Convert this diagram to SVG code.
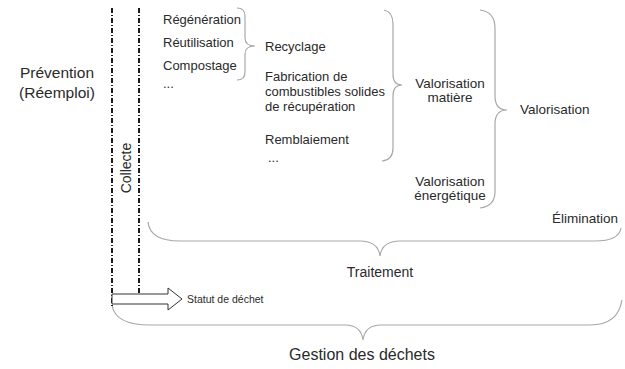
<svg xmlns="http://www.w3.org/2000/svg" width="625" height="369" viewBox="0 0 625 369">
<style>
text{font-family:"Liberation Sans",Arial,sans-serif;fill:#2a2a2a}
.s{font-size:13px}
.v{font-size:13.5px}
.m{font-size:14px}
.l{font-size:15.5px}
.br{fill:none;stroke:#a8a8a8;stroke-width:1.2}
.dl{stroke:#1a1a1a;stroke-width:2;stroke-dasharray:5 2 1 2;fill:none}
</style>
<rect width="625" height="369" fill="#fff"/>
<g id="connectors">
<path class="br" d="M237,8 Q245,8 245,16 L245,38 Q245,46 255,46 Q245,46 245,54 L245,72 Q245,80 237,80"/>
<path class="br" d="M384,10 Q393,12 393,24 L393,74 Q393,85 402,85 Q393,85 393,96 L393,148 Q393,160 382,161"/>
<path class="br" d="M480,10 Q495,12 495,28 L495,96 Q495,110 507,110 Q495,110 495,124 L495,192 Q495,206 480,208"/>
<path class="br" d="M148,222 Q150,241 180,241 L360,241 Q378,241 380,256 Q382,241 400,241 L595,241 Q619,241 621,228"/>
<path class="br" d="M112,305 Q115,325 150,325 L345,325 Q361,325 363,340 Q365,325 381,325 L590,325 Q618,325 622,300"/>
</g>
<g id="prevention">
<text class="l" x="57" y="78" text-anchor="middle">Prévention</text>
<text class="l" x="57" y="98" text-anchor="middle">(Réemploi)</text>
</g>
<g id="collecte">
<line class="dl" x1="112" y1="8" x2="112" y2="306"/>
<line class="dl" x1="139" y1="8" x2="139" y2="304"/>
<text class="m" transform="translate(131,168) rotate(-90)" text-anchor="middle">Collecte</text>
</g>
<g id="statut">
<path d="M112,294 L168,294 L168,288 L182,299 L168,310 L168,304 L112,304 Z" fill="#fff" stroke="#333" stroke-width="1"/>
<text x="187" y="303" style="font-size:10.5px">Statut de déchet</text>
</g>
<g id="recyclage-list">
<text class="s" x="163" y="24">Régénération</text>
<text class="s" x="163" y="47">Réutilisation</text>
<text class="s" x="163" y="70">Compostage</text>
<text class="s" x="163" y="88">...</text>
</g>
<g id="recyclage"><text class="s" x="265" y="51">Recyclage</text></g>
<g id="fabrication">
<text class="s" x="265" y="81">Fabrication de</text>
<text class="s" x="265" y="96">combustibles solides</text>
<text class="s" x="265" y="111">de récupération</text>
</g>
<g id="remblaiement">
<text class="s" x="265" y="144">Remblaiement</text>
<text class="s" x="268" y="162">...</text>
</g>
<g id="valorisation-matiere">
<text class="v" x="450" y="88" text-anchor="middle">Valorisation</text>
<text class="v" x="450" y="102" text-anchor="middle">matière</text>
</g>
<g id="valorisation-energetique">
<text class="v" x="450" y="186" text-anchor="middle">Valorisation</text>
<text class="v" x="450" y="200" text-anchor="middle">énergétique</text>
</g>
<g id="valorisation"><text class="v" x="520" y="114">Valorisation</text></g>
<g id="elimination"><text class="v" x="552" y="223">Élimination</text></g>
<g id="traitement"><text class="m" x="380" y="277" text-anchor="middle">Traitement</text></g>
<g id="gestion"><text style="font-size:16px" x="362" y="360" text-anchor="middle">Gestion des déchets</text></g>
</svg>
